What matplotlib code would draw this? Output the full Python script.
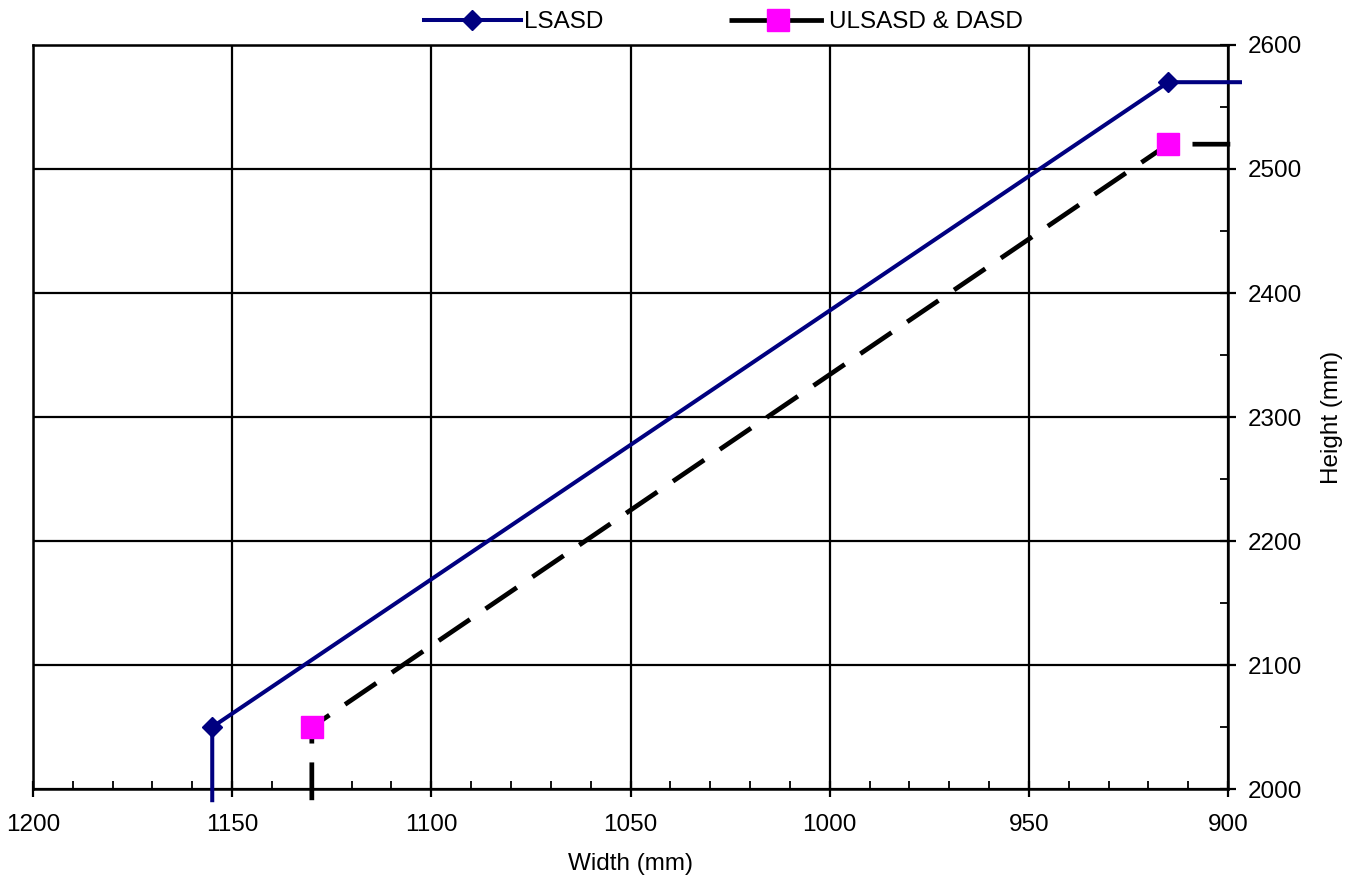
import matplotlib.pyplot as plt
from matplotlib.ticker import MultipleLocator

plt.rcParams['font.family'] = ['Liberation Sans', 'DejaVu Sans']

# series data (width, height in mm)
lsasd_w = [1155, 1155, 915, 897]
lsasd_h = [1991, 2050, 2570, 2570]
ulsasd_w = [1130, 1130, 915, 897]
ulsasd_h = [1991, 2050, 2520, 2520]

fig = plt.figure(figsize=(13.52, 8.77), dpi=100)
ax = fig.add_axes([0.0244, 0.1003, 0.8839, 0.8484])

ax.plot(lsasd_w, lsasd_h, color='#000080', lw=2.9, clip_on=False, zorder=3,
        label='LSASD')
ax.plot(lsasd_w[1:3], lsasd_h[1:3], ls='none', marker='D', ms=10,
        color='#000080', clip_on=False, zorder=4)

ax.plot(ulsasd_w, ulsasd_h, color='black', lw=3.4, dashes=(8, 4),
        clip_on=False, zorder=3, label='ULSASD & DASD')
ax.plot(ulsasd_w[1:3], ulsasd_h[1:3], ls='none', marker='s', ms=16,
        color='#ff00ff', clip_on=False, zorder=4)

ax.set_xlim(1200, 900)
ax.set_ylim(2000, 2600)
ax.xaxis.set_major_locator(MultipleLocator(50))
ax.xaxis.set_minor_locator(MultipleLocator(10))
ax.yaxis.set_major_locator(MultipleLocator(100))
ax.yaxis.set_minor_locator(MultipleLocator(50))
ax.yaxis.tick_right()
ax.yaxis.set_label_position('right')

ax.grid(True, which='major', color='black', lw=1.6)
for s in ax.spines.values():
    s.set_linewidth(1.8)
ax.tick_params(which='major', direction='inout', length=12, width=1.6,
               labelsize=17.5)
ax.tick_params(axis='x', which='major', pad=12)
ax.tick_params(axis='y', which='major', pad=8)
ax.tick_params(which='minor', direction='in', length=6, width=1.3)
ax.tick_params(axis='y', which='both', left=False, right=True)

ax.set_xlabel('Width (mm)', fontsize=17.5, labelpad=12)
ax.set_ylabel('Height (mm)', fontsize=17.5, labelpad=14)

# legend handles combine line and marker
h1, = ax.plot([], [], color='#000080', lw=2.9, marker='D', ms=10)
h2, = ax.plot([], [], color='black', lw=3.4, dashes=(8, 4), marker='s',
              ms=16, mfc='#ff00ff', mec='#ff00ff')
fig.legend([h1, h2], ['LSASD', 'ULSASD & DASD'], loc='upper center',
           bbox_to_anchor=(0.535, 1.012), ncol=2, frameon=False, fontsize=17.5,
           handlelength=4.0, columnspacing=5.2, handletextpad=0.1)

fig.savefig('out.png', dpi=100)
